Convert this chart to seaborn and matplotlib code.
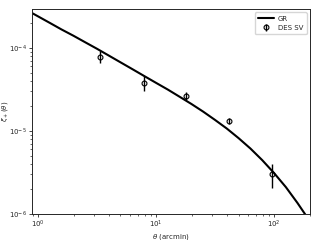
import numpy as np
import pandas as pd
import matplotlib
matplotlib.use("Agg")
import matplotlib.pyplot as plt
import seaborn as sns

# GR prediction
theta_gr = [0.89, 1.0, 1.26, 1.58, 2.0, 2.51, 3.16, 3.98, 5.01, 6.31, 7.94, 10.0,
            12.6, 15.8, 20.0, 25.1, 31.6, 39.8, 50.1, 63.1, 79.4, 100, 126, 158, 200]
xi_gr = [2.63e-4, 2.40e-4, 2.00e-4, 1.67e-4, 1.40e-4, 1.17e-4, 9.77e-5, 8.09e-5,
         6.70e-5, 5.55e-5, 4.59e-5, 3.80e-5, 3.15e-5, 2.59e-5, 2.11e-5, 1.71e-5,
         1.36e-5, 1.07e-5, 8.20e-6, 6.15e-6, 4.46e-6, 3.12e-6, 2.11e-6, 1.36e-6, 8.3e-7]

# DES SV measurements
theta_des = [3.35, 7.87, 18.1, 41.8, 96.2]
xi_des = [7.86e-5, 3.82e-5, 2.66e-5, 1.32e-5, 3.03e-6]
err_des = [1.2e-5, 0.8e-5, 0.27e-5, 0.12e-5, 0.95e-6]

sns.set_style("ticks")
plt.rcParams["font.family"] = ["DejaVu Sans"]

gr = pd.DataFrame({"theta": theta_gr, "xi": xi_gr})

fig = plt.figure(figsize=(3.2, 2.4), dpi=100)
ax = fig.add_axes([0.1, 0.108, 0.869, 0.855])

sns.lineplot(data=gr, x="theta", y="xi", color="black", linewidth=1.5,
             label="GR", ax=ax)
ax.errorbar(theta_des, xi_des, yerr=err_des, fmt="o", mfc="none", mec="black",
            ecolor="black", color="black", markersize=3.5, mew=0.8,
            elinewidth=1.0, label="DES SV")

ax.set_xscale("log")
ax.set_yscale("log")
ax.set_xlim(0.89, 202)
ax.set_ylim(1e-6, 2.95e-4)

ax.set_xlabel(r"$\theta$ (arcmin)", fontsize=5)
ax.set_ylabel(r"$\xi_+(\theta)$", fontsize=5)
ax.xaxis.set_label_coords(0.5, -0.085)
ax.yaxis.set_label_coords(-0.08, 0.5)
ax.tick_params(axis="both", which="major", labelsize=5, length=2.5, width=0.6, pad=1)
ax.tick_params(axis="both", which="minor", length=1.4, width=0.5)
for s in ax.spines.values():
    s.set_linewidth(0.7)

ax.legend(loc="upper right", fontsize=5, frameon=True, handlelength=2.2,
          borderpad=0.5, labelspacing=0.4, handletextpad=0.6)

fig.savefig("out.png", dpi=100)
